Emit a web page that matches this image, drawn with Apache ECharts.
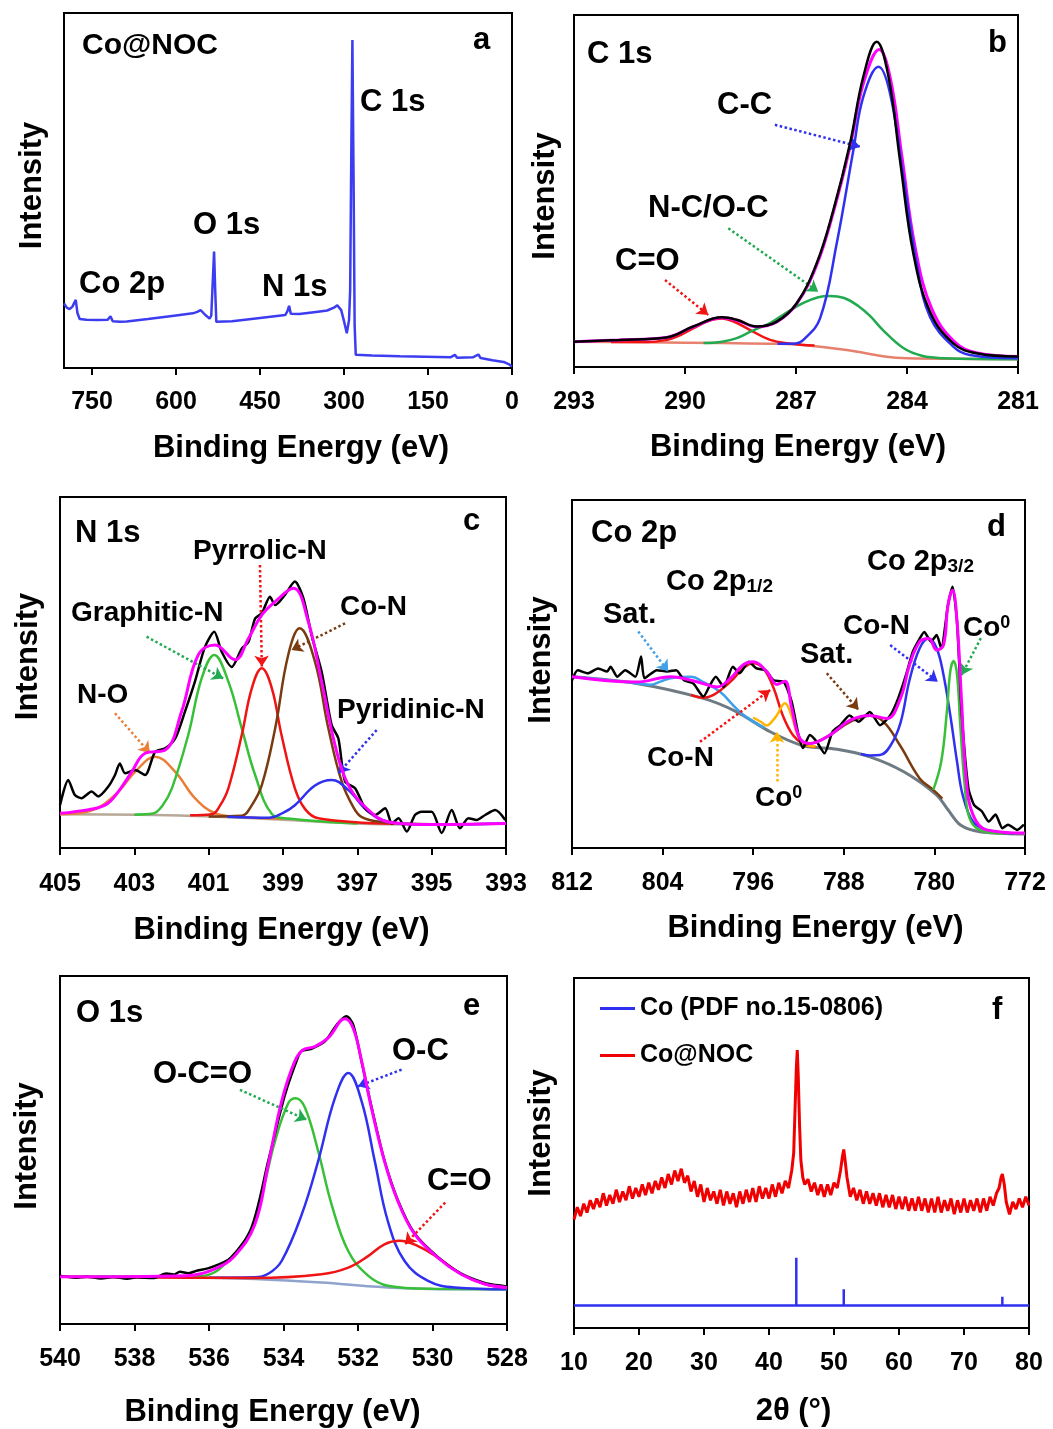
<!DOCTYPE html>
<html><head><meta charset="utf-8">
<script src="https://cdn.jsdelivr.net/npm/echarts@6/dist/echarts.min.js"></script>
<style>html,body{margin:0;padding:0;background:#fff}#c{width:1053px;height:1429px}</style>
</head><body><div id="c"></div>
<script>
// ---------- DATA ----------
// (a) survey spectrum [BE eV, intensity a.u.]
const a_survey = [[800,18.2],[795,17.0],[790,16.6],[785,17.3],[779,19.2],[776,15.5],[772,13.8],[760,13.6],[740,13.5],[722,13.6],[717,14.6],[713,13.2],[700,13.0],[688,13.1],[650,13.8],[600,14.8],[570,15.4],[562,15.8],[556,16.3],[548,15.0],[540,13.9],[537,14.8],[535,22],[532,32.8],[530,22],[528,13],[526,12.8],[500,13.2],[450,14.1],[405,14.9],[401,16],[398,17.5],[395,15.3],[380,15.2],[350,15.8],[330,16.2],[318,17.0],[312,17.7],[305,16.3],[300,13.2],[295,9.8],[291,13.5],[289,22],[287,60],[285,92.4],[283,55],[281,12],[279,3.7],[250,3.5],[200,3.3],[110,3.0],[102,3.7],[98,2.9],[70,3.0],[60,3.8],[56,2.8],[35,2.2],[15,1.7],[5,1.0],[0,0.4]];
const a_ticks = [0,150,300,450,600,750];

// (b) C 1s
const b_raw = [[293,7.2],[291.76,7.7],[290.5,8.4],[289.78,11.5],[289.0,14.1],[288.6,13.4],[288.06,11.5],[287.52,12.9],[286.98,18.1],[286.44,29.5],[285.99,44.6],[285.54,63.5],[285.18,82.5],[284.82,92.4],[284.5,82.5],[284.19,58.8],[283.83,32.3],[283.38,15.7],[282.75,6.7],[282.12,3.9],[281,3.0]];
const b_fit = [[293,7.2],[291.8,7.7],[290.5,8.4],[289.8,11.3],[289.0,14.0],[288.6,13.3],[288.06,11.4],[287.52,12.8],[286.98,18.0],[286.44,29.0],[285.99,44.0],[285.54,62.5],[285.18,80.5],[284.75,90.2],[284.45,82.0],[284.14,60.0],[283.78,34.0],[283.33,16.5],[282.7,7.0],[282.1,4.0],[281,3.0]];
const b_CC = [[287.5,6.6],[287.0,6.7],[286.8,7.7],[286.35,13.8],[285.9,35.1],[285.45,61.6],[285.18,76.8],[284.77,85.3],[284.46,77.8],[284.1,54.1],[283.74,29.5],[283.38,14.3],[282.75,5.8],[282.3,3.4],[281,2.5]];
const b_NCOC = [[289.5,6.8],[289,7.2],[288.6,8.2],[288.2,10.2],[287.7,12.5],[287.2,15.8],[286.8,18.2],[286.4,19.8],[286.1,20.2],[285.7,19.6],[285.3,17.2],[285,14.5],[284.65,10.5],[284.1,5.4],[283.6,3.2],[283,2.5],[281,2.2]];
const b_CO = [[292,7.1],[291,7.1],[290.5,7.7],[290.22,8.6],[289.78,11.0],[289.3,13.3],[289.0,13.8],[288.7,13.0],[288.24,10.5],[287.7,7.7],[287.2,6.7],[286.5,6.1]];
const b_bg = [[293,7.2],[291,7.0],[289,6.8],[287.5,6.6],[286.8,6.25],[285.63,4.8],[284.55,2.9],[284.0,2.5],[282,2.3],[281,2.2]];
const b_ticks = [281,284,287,290,293];

// (c) N 1s
const c_raw = [[405,12.2],[404.78,19.4],[404.6,15.1],[404.42,14.2],[404.15,16.1],[403.97,14.7],[403.7,17.5],[403.52,20.8],[403.39,24.1],[403.25,21.3],[402.98,22.2],[402.71,20.8],[402.44,27.4],[402.17,28.4],[401.9,31.2],[401.64,38.8],[401.37,47.4],[401.1,57.3],[400.85,61.6],[400.65,55.9],[400.38,51.6],[400.11,56.8],[399.93,58.7],[399.75,65.4],[399.57,66.9],[399.35,71.6],[399.21,69.2],[398.95,72.1],[398.68,75.9],[398.45,71.1],[398.23,60.6],[397.96,50.2],[397.69,35.0],[397.51,31.2],[397.33,18.9],[397.06,17.0],[396.79,11.3],[396.52,9.4],[396.25,11.3],[396.07,7.0],[395.89,8.5],[395.67,4.7],[395.45,9.4],[395.27,10.3],[395.0,10.3],[394.73,4.3],[394.46,10.8],[394.24,5.6],[394.01,8.5],[393.79,8.0],[393.56,9.4],[393.29,10.8],[393.02,8.0]];
const c_fit = [[405,9.9],[404.5,10.5],[403.79,12.2],[403.4,16.5],[403.07,21.7],[402.71,27.0],[402.17,27.9],[401.73,38.8],[401.28,55.0],[400.83,57.8],[400.29,53.6],[399.93,59.7],[399.57,66.4],[399.21,70.2],[398.72,74.0],[398.32,64.5],[397.96,47.4],[397.6,29.3],[397.24,17.9],[396.7,10.8],[396.16,7.4],[395.27,6.7],[393,7.0]];
const c_NO = [[405,9.6],[404.2,10.5],[403.52,15.1],[402.98,21.7],[402.44,26.0],[401.9,21.7],[401.37,14.2],[400.83,9.9],[400.2,8.9],[399,8.3]];
const c_graphitic = [[403,9.5],[402.5,9.8],[402.25,12.0],[401.99,17.0],[401.55,32.2],[401.19,48.3],[400.85,55.0],[400.47,47.4],[400.11,34.1],[399.75,20.8],[399.3,9.7],[398.86,8.4],[397,7.0]];
const c_pyrrolic = [[401.5,9.3],[400.92,9.6],[400.7,12.0],[400.47,17.0],[400.11,32.2],[399.84,45.5],[399.57,51.2],[399.3,45.5],[399.04,32.2],[398.68,17.0],[398.4,11.0],[398.05,8.5],[396,6.9]];
const c_CoN = [[401,9.0],[400.11,9.2],[399.85,12.0],[399.57,17.9],[399.21,34.1],[398.86,55.0],[398.55,62.6],[398.14,53.1],[397.78,34.1],[397.42,18.9],[397.1,11.5],[396.88,8.8],[396.4,7.5],[395,6.8]];
const c_pyridinic = [[400.5,8.9],[399.39,8.6],[399,10],[398.68,12.2],[398.14,17.8],[397.69,19.4],[397.24,16.5],[396.7,10.3],[396.16,7.4],[395.27,6.7],[393,7.0]];
const c_bg = [[405,9.6],[402.44,9.4],[399.75,8.5],[397.06,7.0],[395.27,6.7],[393,7.0]];
const c_ticks = [393,395,397,399,401,403,405];

// (d) Co 2p
const d_raw = [[812,48.2],[811.5,51.1],[810.6,50.2],[809.7,51.6],[808.9,50.7],[808.6,52.1],[808.0,49.2],[807.3,51.1],[806.4,49.2],[805.9,55.0],[805.6,48.8],[804.5,51.1],[803.6,50.7],[802.8,51.1],[802.1,48.2],[801.3,47.3],[800.4,43.5],[799.8,46.9],[799.3,49.2],[798.6,46.3],[797.8,52.1],[797.2,50.2],[796.4,53.5],[795.7,51.6],[794.9,51.1],[794.2,48.2],[793.3,47.7],[792.6,42.0],[792.0,32.5],[791.6,28.7],[791.0,32.5],[790.4,30.6],[789.7,27.2],[789.0,33.4],[788.3,35.3],[787.5,38.1],[786.7,36.3],[785.7,39.1],[784.8,35.3],[783.9,38.1],[783.2,43.0],[782.5,49.8],[781.9,56.5],[781.3,60.2],[780.9,62.1],[780.3,59.3],[779.8,61.2],[779.4,57.4],[778.8,69.8],[778.4,75.1],[778.0,65.0],[777.6,39.1],[777.0,17.2],[776.5,12.4],[775.8,10.5],[775.2,7.6],[774.6,9.6],[774.0,5.7],[773.5,6.7],[772.7,5.2],[772.1,6.7]];
const d_fit = [[812,49.2],[806.3,47.7],[803.3,49.2],[800.9,47.7],[799.2,46.3],[798.0,48.8],[796.9,52.6],[796.0,53.5],[794.8,50.7],[793.9,47.0],[793.2,47.9],[792.6,40.2],[791.9,31.6],[791.0,30.0],[789.2,32.5],[787.4,36.8],[785.7,38.1],[784.2,37.2],[783.0,43.0],[782.2,52.6],[781.3,59.3],[780.5,60.2],[779.8,56.9],[779.2,58.3],[778.8,69.8],[778.4,74.1],[778.0,65.0],[777.6,42.0],[777.2,20.0],[776.6,9.6],[775.4,5.2],[772,4.3]];
const d_sat12 = [[812,49.2],[809,48.3],[806.3,47.3],[805.1,46.9],[804.2,47.8],[803.3,48.8],[801.5,49.2],[800.4,47.7],[798.9,44.8],[797.5,40.1],[796.6,37.6],[795,34.5]];
const d_CoN12 = [[801.5,44.0],[800.4,43.2],[799.5,44.0],[798.0,47.8],[796.9,51.6],[796.0,53.1],[795.1,51.6],[794.2,46.0],[793.4,38.2],[792.5,32.5],[791.6,30.0],[790.5,29.0]];
const d_Co0_12 = [[796,37.5],[795.3,36.2],[794.8,35.2],[794.3,36.5],[793.9,38.2],[793.2,41.6],[792.6,37.9],[792.1,32.6],[791.6,30.0],[790.5,29.2]];
const d_sat32 = [[791.6,29.6],[790.4,30.5],[789.2,32.5],[787.4,36.3],[785.7,38.0],[784.5,36.3],[783.0,29.3],[781.3,20.0],[780.1,16.7],[779.3,14.2]];
const d_CoN32 = [[786.5,27.0],[785.7,26.6],[784.8,26.7],[783.9,29.3],[783.0,35.9],[782.2,48.2],[781.3,57.4],[780.5,60.2],[779.8,57.4],[779.2,49.8],[778.6,38.2],[778.0,24.8],[777.5,15.2],[776.6,7.6],[775.4,5.2],[773,4.2]];
const d_Co0_32 = [[780.1,16.7],[779.4,24.8],[778.9,39.1],[778.6,50.7],[778.3,53.7],[778.0,49.8],[777.7,34.5],[777.3,17.2],[776.9,8.6],[776.0,5.2],[774,4.2]];
const d_bg = [[812,49.2],[806.3,47.3],[800.4,43.0],[797.5,39.2],[794.5,33.4],[791.6,29.4],[788.6,28.4],[785.7,26.2],[782.7,21.9],[779.8,15.2],[778.8,11.0],[777.7,6.6],[776.0,4.7],[772,4.0]];
const d_ticks = [772,780,788,796,804,812];

// (e) O 1s
const e_raw = [[540,13.9],[539.6,13.3],[539.28,13.6],[538.9,13.1],[538.57,13.5],[538.2,13.0],[537.94,13.4],[537.5,13.2],[537.14,14.5],[536.95,14.2],[536.78,15.0],[536.55,14.6],[536.33,15.3],[535.97,16.2],[535.41,19.1],[534.86,27.7],[534.41,46.8],[533.96,65.9],[533.6,77.0],[533.51,78.5],[533.25,79.1],[532.89,81.2],[532.57,86.0],[532.31,88.4],[532.13,86.0],[531.9,75.2],[531.64,62.5],[531.29,47.0],[530.93,35.6],[530.48,26.0],[529.86,19.3],[529.23,14.5],[528.6,11.8],[528.3,11.2],[528,10.8]];
const e_fit = [[540,13.6],[536.6,13.9],[535.86,15.8],[535.32,19.5],[534.77,28.6],[534.41,45.8],[534.05,64.0],[533.7,75.4],[533.47,78.8],[533.16,79.7],[532.8,82.2],[532.35,87.7],[532.13,85.0],[531.9,75.4],[531.64,62.1],[531.29,46.8],[530.93,35.3],[530.48,25.8],[529.86,19.1],[529.23,14.3],[528.6,11.5],[528,10.5]];
const e_OCO = [[540,13.6],[536.3,13.7],[535.86,14.8],[535.5,18.1],[534.94,25.4],[534.58,37.2],[534.23,52.5],[533.87,63.5],[533.67,64.9],[533.42,62.1],[533.07,49.7],[532.71,34.4],[532.26,20.9],[531.73,13.9],[531.2,11.0],[530,10.1],[528,10.0]];
const e_OC = [[536,13.3],[534.77,13.4],[534.4,14.5],[534.05,18.1],[533.51,31.5],[533.07,46.8],[532.62,64.9],[532.26,72.1],[531.9,63.9],[531.55,46.8],[531.2,29.6],[530.75,18.1],[530.12,12.4],[529.4,10.5],[528,10.0]];
const e_CO = [[540,13.6],[534.77,13.2],[532.98,14.3],[532.26,16.2],[531.73,19.5],[531.29,22.9],[530.89,23.9],[530.39,22.4],[529.86,19.1],[529.23,14.3],[528.6,11.5],[528,10.5]];
const e_bg = [[540,13.6],[536.6,13.4],[534.77,12.9],[532.98,11.9],[531.2,10.5],[529.4,10.0],[528,10.0]];
const e_ticks = [528,530,532,534,536,538,540];

// (f) XRD [2theta, intensity]
const f_ref = [[10,6.4],[44.2,6.4],[44.2,20.1],[44.2,6.4],[51.5,6.4],[51.5,11.1],[51.5,6.4],[75.9,6.4],[75.9,8.9],[75.9,6.4],[80,6.4]];
const f_sample = [[10.0,31.0],[10.5,34.5],[11.0,32.0],[11.5,35.5],[12.0,33.0],[12.5,36.5],[13.0,34.0],[13.5,37.0],[14.0,34.5],[14.5,38.5],[15.0,35.0],[15.5,38.0],[16.0,35.5],[16.5,39.5],[17.0,36.0],[17.5,39.0],[18.0,36.5],[18.5,40.5],[19.0,37.0],[19.5,40.0],[20.0,37.5],[20.5,41.0],[21.0,38.0],[21.5,41.5],[22.0,38.5],[22.5,42.0],[23.0,39.5],[23.5,43.0],[24.0,40.0],[24.5,44.0],[25.0,41.0],[25.5,45.0],[26.0,42.0],[26.5,45.5],[27.0,41.5],[27.5,43.5],[28.0,39.0],[28.5,42.0],[29.0,37.5],[29.5,41.0],[30.0,36.0],[30.5,40.0],[31.0,36.5],[31.5,39.0],[32.0,35.5],[32.5,39.5],[33.0,35.0],[33.5,39.0],[34.0,35.5],[34.5,38.5],[35.0,34.5],[35.5,39.0],[36.0,35.5],[36.5,39.5],[37.0,36.0],[37.5,40.0],[38.0,36.0],[38.5,40.5],[39.0,37.0],[39.5,40.0],[40.0,37.0],[40.5,41.0],[41.0,37.5],[41.5,41.5],[42.0,38.5],[42.5,42.0],[43.0,40.0],[43.5,45.0],[43.8,50.0],[44.0,62.0],[44.2,74.0],[44.35,79.4],[44.5,72.0],[44.7,58.0],[44.9,48.0],[45.2,43.0],[45.5,41.0],[46.0,42.5],[46.5,39.0],[47.0,41.5],[47.5,38.0],[48.0,41.0],[48.5,37.5],[49.0,41.0],[49.5,38.0],[50.0,41.5],[50.5,40.0],[51.0,45.0],[51.3,49.0],[51.5,51.0],[51.7,48.0],[52.0,43.0],[52.5,37.5],[53.0,40.0],[53.5,36.5],[54.0,39.5],[54.5,35.5],[55.0,39.0],[55.5,35.5],[56.0,38.5],[56.5,35.0],[57.0,38.5],[57.5,34.5],[58.0,38.0],[58.5,34.5],[59.0,38.0],[59.5,34.0],[60.0,37.5],[60.5,34.0],[61.0,37.5],[61.5,33.5],[62.0,37.0],[62.5,33.5],[63.0,37.5],[63.5,33.5],[64.0,37.0],[64.5,33.0],[65.0,37.0],[65.5,33.0],[66.0,37.5],[66.5,33.0],[67.0,36.5],[67.5,33.5],[68.0,37.0],[68.5,32.5],[69.0,36.5],[69.5,33.0],[70.0,37.0],[70.5,33.0],[71.0,36.5],[71.5,33.5],[72.0,37.0],[72.5,33.0],[73.0,37.0],[73.5,33.5],[74.0,37.5],[74.5,35.0],[75.0,38.5],[75.4,40.0],[75.7,43.0],[75.9,44.0],[76.2,41.0],[76.5,36.0],[77.0,32.5],[77.5,36.0],[78.0,34.0],[78.5,37.0],[79.0,34.5],[79.5,37.5],[80.0,35.0]];
const f_ticks = [10,20,30,40,50,60,70,80];

// ---------- CHART ----------
const FONT = "'Liberation Sans', Arial, Helvetica, sans-serif";
const grids = [
  {left:64, top:13, width:448, height:355},
  {left:574, top:15, width:444, height:352},
  {left:60, top:497, width:446, height:351},
  {left:572, top:500, width:453, height:348},
  {left:60, top:976, width:447, height:349},
  {left:574, top:978, width:455, height:350}
].map(g => Object.assign({show:true, borderColor:'#000', borderWidth:2, backgroundColor:'transparent'}, g));

function xAx(i, min, max, ticks, inverse, name, margin, gap, pad) {
  return {gridIndex:i, type:'value', min:min, max:max, inverse:inverse,
    axisLine:{show:true, onZero:false, lineStyle:{color:'#000', width:2}},
    axisTick:{show:true, inside:false, length:7, lineStyle:{color:'#000', width:2}, customValues:ticks},
    axisLabel:{customValues:ticks, margin:margin, color:'#000', fontSize:25, fontWeight:'bold', fontFamily:FONT},
    splitLine:{show:false},
    name:name, nameLocation:'middle', nameGap:gap,
    nameTextStyle:{fontSize:31, fontWeight:'bold', color:'#000', fontFamily:FONT, padding:pad}};
}
function yAx(i, gap, pad) {
  return {gridIndex:i, type:'value', min:0, max:100,
    axisLine:{show:false}, axisTick:{show:false}, axisLabel:{show:false}, splitLine:{show:false},
    name:'Intensity', nameLocation:'middle', nameGap:gap,
    nameTextStyle:{fontSize:31, fontWeight:'bold', color:'#000', fontFamily:FONT, padding:pad}};
}
const BE = 'Binding Energy (eV)';
const xAxes = [
  xAx(0, 0, 800, a_ticks, true, BE, 22, 65, [0,0,0,26]),
  xAx(1, 281, 293, b_ticks, true, BE, 23, 65, [0,0,0,4]),
  xAx(2, 393, 405, c_ticks, true, BE, 24, 67, [0,3,0,0]),
  xAx(3, 772, 812, d_ticks, true, BE, 23, 65, [0,0,0,34]),
  xAx(4, 528, 540, e_ticks, true, BE, 23, 73, [0,22,0,0]),
  xAx(5, 10, 80, f_ticks, false, '2\u03b8 (\u00b0)', 23, 68, [0,16,0,0])
];
const yAxes = [
  yAx(0, 16, [0,0,0,10]),
  yAx(1, 13, [0,10,0,0]),
  yAx(2, 16, [0,0,0,32]),
  yAx(3, 15, [0,0,0,28]),
  yAx(4, 17, [0,0,0,8]),
  yAx(5, 17, [0,0,0,40])
];

function line(name, i, data, color, width, smooth, z) {
  return {name:name, type:'line', xAxisIndex:i, yAxisIndex:i, data:data, showSymbol:false, symbol:'none',
    smooth:smooth, lineStyle:{color:color, width:width}, itemStyle:{color:color}, z:z||2, silent:true, animation:false};
}
function withArrows(series, list) {
  series.markLine = {silent:true, symbol:['none','arrow'], symbolSize:11, animation:false,
    label:{show:false}, lineStyle:{type:'dotted', width:2.5},
    data: list.map(a => [{coord:a[0], lineStyle:{color:a[2], type:'dotted', width:2.5}, itemStyle:{color:a[2]}}, {coord:a[1]}])};
  return series;
}

const RED='#f01414', BLUE='#3030f0', GREEN='#22aa50', LGREEN='#38c038', BROWN='#7a3b10', ORANGE='#e8803a', MAG='#ff00ff';

const series = [
  // a
  line('survey', 0, a_survey, '#3c3cf0', 2.5, false, 3),
  // b
  withArrows(line('b bg', 1, b_bg, '#e8806e', 2.5, 0.3, 2), [
    [[287.57,68.8],[285.27,62.6],BLUE],
    [[288.83,39.4],[286.4,21.4],GREEN],
    [[290.54,24.7],[289.37,14.8],RED]]),
  line('b CO', 1, b_CO, RED, 2.5, 0.4, 3),
  line('b NCOC', 1, b_NCOC, GREEN, 2.5, 0.4, 3),
  line('b fit', 1, b_fit, MAG, 3, 0.4, 4),
  line('b CC', 1, b_CC, BLUE, 2.5, 0.4, 5),
  line('b raw', 1, b_raw, '#000', 2.5, 0.4, 6),
  // c
  withArrows(line('c bg', 2, c_bg, '#b8a898', 2.5, 0.3, 2), [
    [[399.62,80.6],[399.57,51.7],RED],
    [[402.67,60.2],[400.61,48.3],GREEN],
    [[397.33,64.0],[398.77,56.4],BROWN],
    [[403.52,38.4],[402.58,27.0],ORANGE],
    [[396.48,33.6],[397.51,21.3],BLUE]]),
  line('c NO', 2, c_NO, ORANGE, 2.5, 0.4, 3),
  line('c graphitic', 2, c_graphitic, LGREEN, 2.5, 0.4, 3),
  line('c pyrrolic', 2, c_pyrrolic, RED, 2.5, 0.4, 3),
  line('c CoN', 2, c_CoN, BROWN, 2.5, 0.4, 3),
  line('c pyridinic', 2, c_pyridinic, BLUE, 2.5, 0.4, 3),
  line('c raw', 2, c_raw, '#000', 2.5, 0.25, 4),
  line('c fit', 2, c_fit, MAG, 3, 0.4, 5),
  // d
  withArrows(line('d bg', 3, d_bg, '#6e7b82', 3, 0.3, 2), [
    [[806.15,62.2],[803.5,50.7],'#3fa0ea'],
    [[800.7,30.5],[794.5,45.4],RED],
    [[793.9,19.1],[793.9,33.4],'#ffb400'],
    [[789.5,50.2],[786.7,39.7],BROWN],
    [[783.9,58.3],[779.7,47.8],BLUE],
    [[775.9,60.3],[777.6,49.7],GREEN]]),
  line('d sat12', 3, d_sat12, '#3fa0ea', 2.5, 0.4, 3),
  line('d CoN12', 3, d_CoN12, RED, 2.5, 0.4, 3),
  line('d Co0 12', 3, d_Co0_12, '#ffb400', 2.5, 0.4, 3),
  line('d sat32', 3, d_sat32, BROWN, 2.5, 0.4, 3),
  line('d CoN32', 3, d_CoN32, BLUE, 2.5, 0.4, 3),
  line('d Co0 32', 3, d_Co0_32, LGREEN, 2.5, 0.4, 3),
  line('d raw', 3, d_raw, '#000', 2.5, 0.2, 4),
  line('d fit', 3, d_fit, MAG, 3, 0.4, 5),
  // e
  withArrows(line('e bg', 4, e_bg, '#8fa3cc', 2.5, 0.3, 2), [
    [[535.17,67.3],[533.38,58.7],GREEN],
    [[530.83,73.1],[532.0,68.3],BLUE],
    [[529.66,34.9],[530.74,22.9],RED]]),
  line('e OCO', 4, e_OCO, LGREEN, 2.5, 0.4, 3),
  line('e OC', 4, e_OC, BLUE, 2.5, 0.4, 3),
  line('e CO', 4, e_CO, RED, 2.5, 0.4, 3),
  line('e raw', 4, e_raw, '#000', 2.5, 0.3, 4),
  line('e fit', 4, e_fit, MAG, 3, 0.4, 5),
  // f
  line('Co (PDF no.15-0806)', 5, f_ref, '#3030f0', 2.5, false, 3),
  line('Co@NOC', 5, f_sample, '#f00000', 3, false, 3)
];

function T(text, x, y, size) {
  return {type:'text', x:x, y:y, z:100, silent:true,
    style:{text:text, fill:'#000', font:'bold '+size+'px '+FONT, align:'left', verticalAlign:'middle'}};
}
function R(text, x, y, size, rich) {
  return {type:'text', x:x, y:y, z:100, silent:true,
    style:{text:text, fill:'#000', font:'bold '+size+'px '+FONT, align:'left', verticalAlign:'middle', rich:rich}};
}
const subRich = {m:{fontSize:29, fontWeight:'bold', fontFamily:FONT, fill:'#000'}, s:{fontSize:19, fontWeight:'bold', fontFamily:FONT, fill:'#000', verticalAlign:'bottom'}};
const supRich = {m:{fontSize:28, fontWeight:'bold', fontFamily:FONT, fill:'#000'}, s:{fontSize:18, fontWeight:'bold', fontFamily:FONT, fill:'#000', verticalAlign:'top'}};

const labels = [
  ['Co@NOC', 82, 46, 30], ['a', 473, 40, 31], ['C 1s', 360, 102, 31], ['O 1s', 193, 225, 31], ['Co 2p', 79, 284, 31], ['N 1s', 262, 287, 31],
  ['C 1s', 587, 54, 31], ['b', 988, 43, 31], ['C-C', 717, 105, 31], ['N-C/O-C', 648, 208, 31], ['C=O', 615, 261, 31],
  ['N 1s', 75, 533, 31], ['c', 463, 521, 31], ['Pyrrolic-N', 193, 551, 28], ['Graphitic-N', 71, 613, 28], ['Co-N', 340, 607, 28], ['N-O', 77, 695, 28], ['Pyridinic-N', 337, 710, 28],
  ['Co 2p', 591, 533, 31], ['d', 987, 527, 31], ['Sat.', 603, 615, 29], ['Co-N', 843, 626, 28], ['Sat.', 800, 655, 29], ['Co-N', 647, 758, 28],
  ['O 1s', 76, 1013, 31], ['e', 463, 1006, 31], ['O-C=O', 153, 1074, 31], ['O-C', 392, 1051, 31], ['C=O', 427, 1181, 31],
  ['f', 992, 1010, 31]
];
const graphics = labels.map(l => T(l[0], l[1], l[2], l[3]));
graphics.push(R('{m|Co 2p}{s|1/2}', 666, 582, 29, subRich));
graphics.push(R('{m|Co 2p}{s|3/2}', 867, 562, 29, subRich));
graphics.push(R('{m|Co}{s|0}', 963, 628, 28, supRich));
graphics.push(R('{m|Co}{s|0}', 755, 798, 28, supRich));

const chart = echarts.init(document.getElementById('c'), null, {renderer:'canvas'});
chart.setOption({
  animation:false,
  backgroundColor:'#fff',
  grid: grids,
  xAxis: xAxes,
  yAxis: yAxes,
  legend: {show:true, orient:'vertical', left:600, top:996, itemWidth:35, itemHeight:3, itemGap:22, icon:'rect', padding:0,
    textStyle:{fontSize:25, fontWeight:'bold', color:'#000', fontFamily:FONT},
    data:['Co (PDF no.15-0806)','Co@NOC'], selectedMode:false},
  series: series,
  graphic: {elements: graphics}
});
</script></body></html>
